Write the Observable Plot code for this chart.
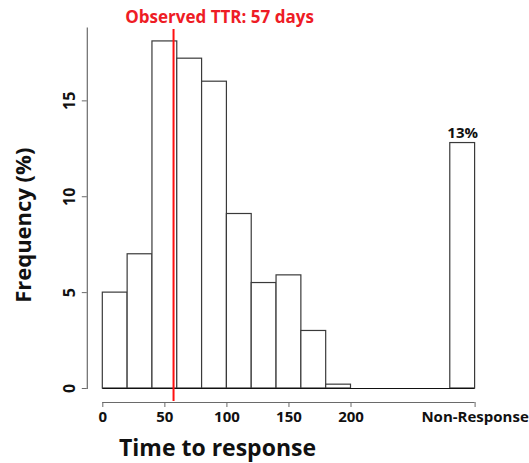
<!DOCTYPE html>
<html>
<head>
<meta charset="utf-8">
<script src="https://cdn.jsdelivr.net/npm/d3@7"></script>
<script src="https://cdn.jsdelivr.net/npm/@observablehq/plot@0.6"></script>
<style>
  html, body { margin: 0; padding: 0; background: #fff; }
</style>
</head>
<body>
<div id="chart"></div>
<script>
// Time-to-response histogram: 20-day bins, plus a separate non-response bar
const binEdges = [0, 20, 40, 60, 80, 100, 120, 140, 160, 180, 200];
const freq = [5.0, 7.0, 18.1, 17.2, 16.0, 9.1, 5.5, 5.9, 3.0, 0.2];

// Non-response bar sits on its own slot at the right end of the axis
const nonResponseBin = [280, 300];
const nonResponsePct = 12.8;

const observedTTR = 57;

const xTicks = [0, 50, 100, 150, 200, 300];
const xTickLabels = ["0", "50", "100", "150", "200", "Non-Response"];
const yTicks = [0, 5, 10, 15];

const bars = freq.map((f, i) => ({x1: binEdges[i], x2: binEdges[i + 1], freq: f}));
bars.push({x1: nonResponseBin[0], x2: nonResponseBin[1], freq: nonResponsePct});

const axisGray = "#6a6a6a";
const barStroke = "#3a3a3a";

const chart = Plot.plot({
  width: 529,
  height: 463,
  marginLeft: 86.8,
  marginRight: 54.4,
  marginTop: 27.5,
  marginBottom: 75,
  style: {fontFamily: "'Open Sans', sans-serif", background: "#fff", overflow: "visible"},
  x: {domain: [-12.5, 300], axis: null},
  y: {domain: [0, 18.8], axis: null},
  marks: [
    // y axis: left edge line, ticks and rotated labels
    Plot.frame({anchor: "left", stroke: axisGray, strokeWidth: 1.2}),
    Plot.axisY({
      ticks: yTicks, tickSize: 5, tickRotate: -90, tickPadding: 7,
      stroke: axisGray, fill: "#111", fontSize: 16, fontWeight: "bold", label: null
    }),
    // bars
    Plot.rect(bars, {
      x1: "x1", x2: "x2", y1: 0, y2: "freq",
      fill: "#fff", stroke: barStroke, strokeWidth: 1.2
    }),
    // baseline under the bars
    Plot.ruleY([0], {x1: 0, x2: nonResponseBin[1], stroke: "#111", strokeWidth: 1.2}),
    // x axis, offset below the baseline
    Plot.ruleY([0], {x1: 0, x2: xTicks[xTicks.length - 1], dy: 14, stroke: axisGray, strokeWidth: 1.2}),
    Plot.axisX({
      ticks: xTicks, tickSize: 5, dy: 14, tickPadding: 4,
      tickFormat: d => xTickLabels[xTicks.indexOf(d)],
      stroke: axisGray, fill: "#111", fontSize: 15, fontWeight: "bold", label: null
    }),
    // value label over the non-response bar
    Plot.text([nonResponsePct], {
      x: (nonResponseBin[0] + nonResponseBin[1]) / 2, y: d => d,
      text: d => `${Math.round(d)}%`,
      lineAnchor: "bottom", dy: -5, fontSize: 15, fontWeight: "bold", fill: "#111"
    }),
    // observed time-to-response marker
    Plot.ruleX([observedTTR], {stroke: "#ff1010", strokeWidth: 2, insetTop: 1.5, insetBottom: -13}),
    Plot.text([`Observed TTR: ${observedTTR} days`], {
      x: observedTTR, frameAnchor: "top", text: d => d,
      lineAnchor: "bottom", dx: 46, dy: -4.8,
      fontSize: 17, fontWeight: "bold", fill: "#ee1c25"
    }),
    // axis titles
    Plot.text(["Time to response"], {
      frameAnchor: "bottom", text: d => d, lineAnchor: "bottom", textAnchor: "middle",
      dx: -63.7, dy: 67, fontSize: 23, fontWeight: "bold", fill: "#111"
    }),
    Plot.text(["Frequency (%)"], {
      frameAnchor: "left", text: d => d, rotate: -90, lineAnchor: "bottom", textAnchor: "middle",
      dx: -56, dy: 17, fontSize: 22, fontWeight: "bold", fill: "#111"
    })
  ]
});

document.getElementById("chart").appendChild(chart);
</script>
</body>
</html>
